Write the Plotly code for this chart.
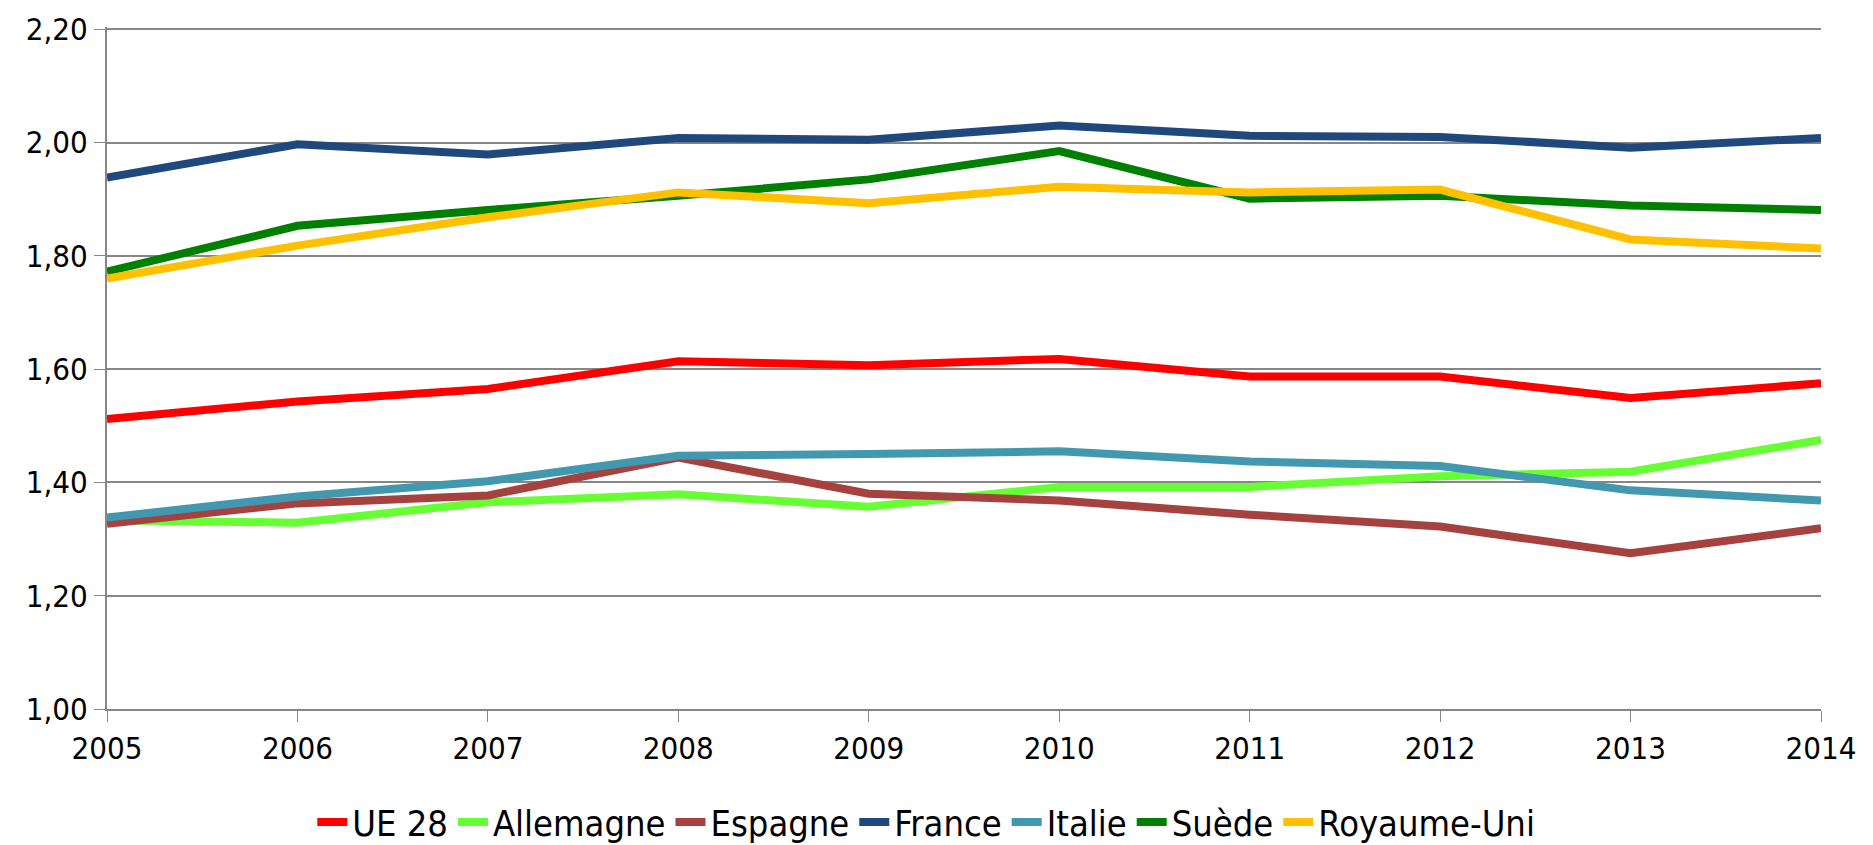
import plotly.graph_objects as go

years = [2005, 2006, 2007, 2008, 2009, 2010, 2011, 2012, 2013, 2014]

ue28 = [1.512, 1.543, 1.565, 1.614, 1.607, 1.618, 1.587, 1.587, 1.549, 1.575]
allemagne = [1.333, 1.329, 1.365, 1.379, 1.357, 1.392, 1.392, 1.411, 1.419, 1.475]
espagne = [1.327, 1.363, 1.377, 1.444, 1.380, 1.368, 1.343, 1.322, 1.275, 1.319]
france = [1.938, 1.997, 1.979, 2.008, 2.005, 2.030, 2.012, 2.010, 1.991, 2.008]
italie = [1.338, 1.375, 1.402, 1.447, 1.450, 1.455, 1.437, 1.429, 1.386, 1.368]
suede = [1.772, 1.853, 1.881, 1.906, 1.935, 1.985, 1.901, 1.906, 1.889, 1.881]
royaume_uni = [1.760, 1.818, 1.868, 1.912, 1.893, 1.922, 1.912, 1.917, 1.829, 1.813]

series = [
    ("UE 28", ue28, "#FF0000"),
    ("Allemagne", allemagne, "#66FF33"),
    ("Espagne", espagne, "#A5413F"),
    ("France", france, "#1F497D"),
    ("Italie", italie, "#4198AF"),
    ("Suède", suede, "#008000"),
    ("Royaume-Uni", royaume_uni, "#FFC000"),
]

font = "DejaVu Sans Condensed, Roboto, sans-serif"

fig = go.Figure()
for name, vals, col in series:
    fig.add_trace(go.Scatter(x=years, y=vals, name=name, mode="lines",
                             line=dict(color=col, width=8)))

fig.update_layout(
    width=1873, height=845,
    margin=dict(l=99, r=60, t=19, b=144, autoexpand=False),
    paper_bgcolor="white", plot_bgcolor="white",
    separators=", ",
    font=dict(family=font, size=31, color="#000000"),
    showlegend=True,
    legend=dict(orientation="h", x=0.478, xanchor="center",
                y=-0.166, yanchor="middle", font=dict(size=36),
                itemwidth=30, tracegroupgap=0),
)
fig.update_xaxes(range=[2005, 2014], tickmode="array", tickvals=years,
                 tickangle=0, ticks="outside", ticklen=11, tickcolor="#868686",
                 showgrid=False, showline=True, linecolor="#868686",
                 linewidth=2, zeroline=False, ticklabeloverflow="allow")
fig.update_yaxes(range=[1.0, 2.204], dtick=0.2, tick0=1.0, tickformat=".2f",
                 ticks="outside", ticklen=11, tickcolor="#868686",
                 showgrid=True, gridcolor="#868686", gridwidth=2,
                 showline=True, linecolor="#868686", linewidth=2,
                 zeroline=False, ticklabeloverflow="allow")

fig.write_html("out.html")
